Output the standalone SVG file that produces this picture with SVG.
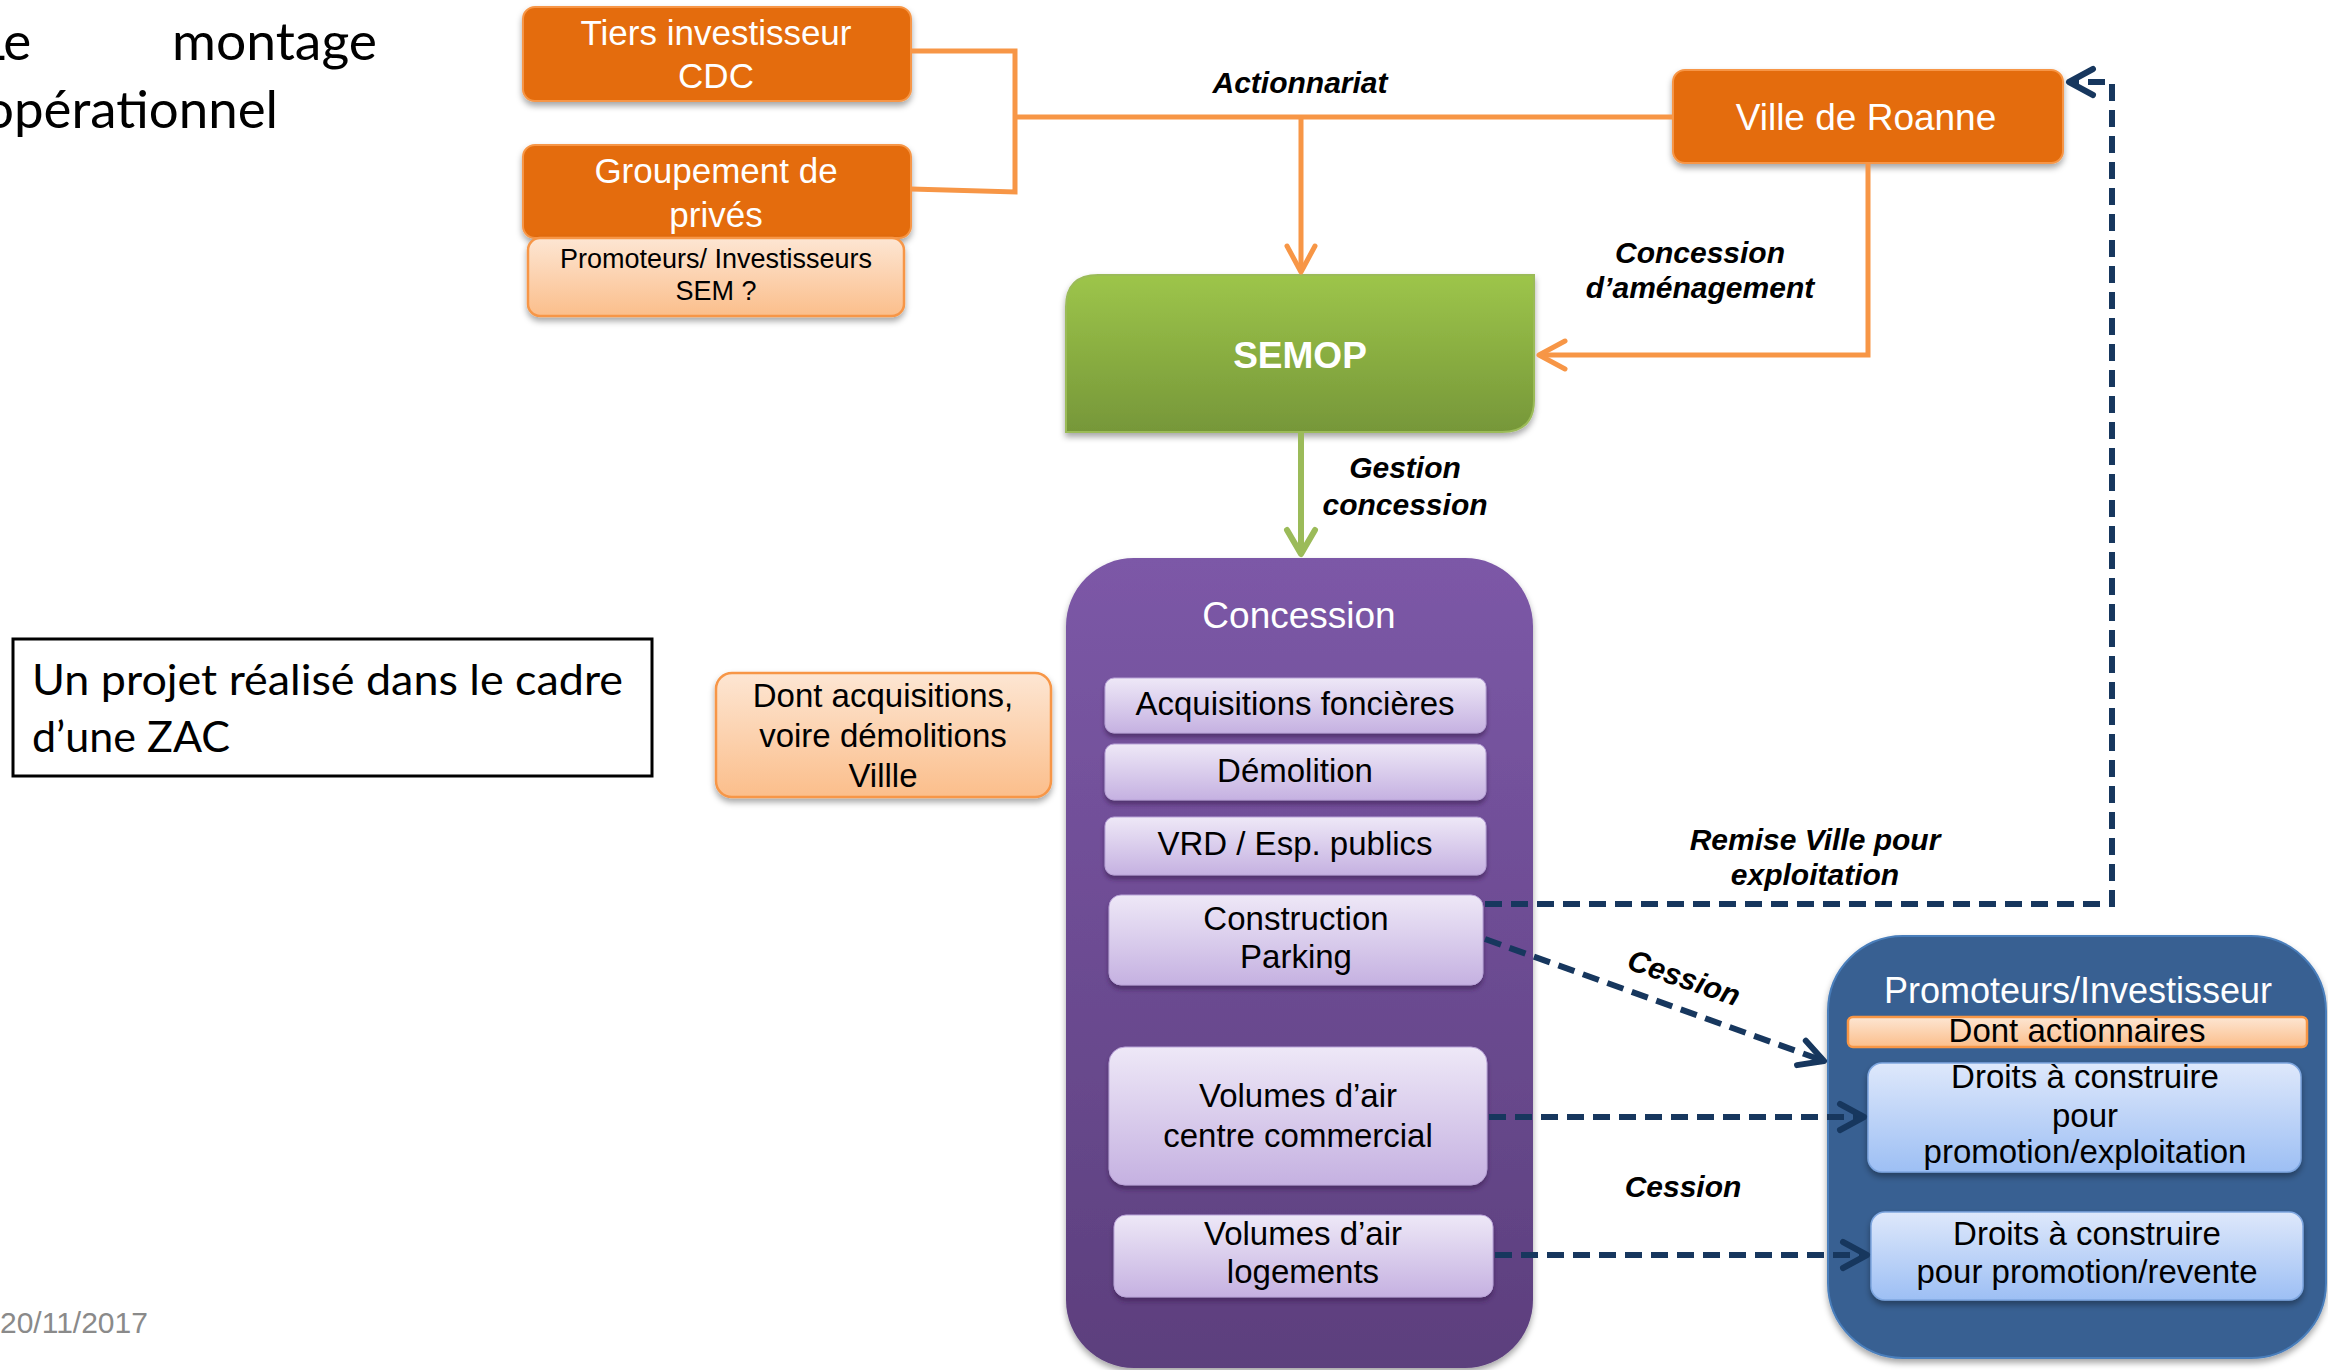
<svg xmlns="http://www.w3.org/2000/svg" width="2328" height="1370" viewBox="0 0 2328 1370">
<defs>
  <linearGradient id="gLightOrange" x1="0" y1="0" x2="0" y2="1">
    <stop offset="0" stop-color="#FDE6D3"/>
    <stop offset="1" stop-color="#FBBE8B"/>
  </linearGradient>
  <linearGradient id="gGreen" x1="0" y1="0" x2="0" y2="1">
    <stop offset="0" stop-color="#9DC54A"/>
    <stop offset="1" stop-color="#769739"/>
  </linearGradient>
  <linearGradient id="gPurple" x1="0" y1="0" x2="0" y2="1">
    <stop offset="0" stop-color="#7C58A7"/>
    <stop offset="1" stop-color="#5C3F7D"/>
  </linearGradient>
  <linearGradient id="gLav" x1="0" y1="0" x2="0" y2="1">
    <stop offset="0" stop-color="#EEE8F7"/>
    <stop offset="1" stop-color="#C5B1E1"/>
  </linearGradient>
  <linearGradient id="gLightBlue" x1="0" y1="0" x2="0" y2="1">
    <stop offset="0" stop-color="#DEE8FB"/>
    <stop offset="1" stop-color="#9DBFF4"/>
  </linearGradient>
  <filter id="shadow" x="-10%" y="-10%" width="120%" height="130%">
    <feDropShadow dx="0" dy="4" stdDeviation="3" flood-color="#000" flood-opacity="0.35"/>
  </filter>
  <filter id="shadowPurple" x="-10%" y="-10%" width="120%" height="130%">
    <feDropShadow dx="0" dy="4" stdDeviation="2" flood-color="#3A2352" flood-opacity="0.6"/>
  </filter>
  <marker id="arrOrange" markerUnits="userSpaceOnUse" markerWidth="40" markerHeight="40" viewBox="-32 -20 40 40" refX="0" refY="0" orient="auto">
    <path d="M -26 -14 L 0 0 L -26 14" fill="none" stroke="#F79646" stroke-width="5" stroke-linecap="round" stroke-linejoin="round"/>
  </marker>
  <marker id="arrGreen" markerUnits="userSpaceOnUse" markerWidth="40" markerHeight="40" viewBox="-32 -20 40 40" refX="0" refY="0" orient="auto">
    <path d="M -24 -14 L 0 0 L -24 14" fill="none" stroke="#9BBB59" stroke-width="6" stroke-linecap="round" stroke-linejoin="round"/>
  </marker>
  <marker id="arrNavy" markerUnits="userSpaceOnUse" markerWidth="40" markerHeight="40" viewBox="-32 -20 40 40" refX="0" refY="0" orient="auto">
    <path d="M -24 -13 L 0 0 L -24 13" fill="none" stroke="#17375E" stroke-width="6" stroke-dasharray="none" stroke-linecap="round" stroke-linejoin="round"/>
  </marker>
</defs>
<style>
  .sans { font-family: "Liberation Sans", Arial, sans-serif; }
  .cal { font-family: Lato, "Open Sans", sans-serif; fill: #000; }
  .orange { fill: #E46C0A; stroke: #F79646; stroke-width: 2; }
  .lorange { fill: url(#gLightOrange); stroke: #F79646; stroke-width: 2.5; }
  .lav { fill: url(#gLav); stroke: #B9A3D8; stroke-width: 1; }
  .lblue { fill: url(#gLightBlue); stroke: #7FA7E0; stroke-width: 1.5; }
  .wt { fill: #FFFFFF; text-anchor: middle; }
  .bk { fill: #000000; text-anchor: middle; }
  .lbl { fill: #000000; text-anchor: middle; font-weight: bold; font-style: italic; font-size: 30px; }
  .orangeLine { fill: none; stroke: #F79646; stroke-width: 5; }
  .greenLine { fill: none; stroke: #9BBB59; stroke-width: 6; }
  .navyDash { fill: none; stroke: #17375E; stroke-width: 6; stroke-dasharray: 17 9; }
</style>

<rect x="0" y="0" width="2328" height="1370" fill="#FFFFFF"/>

<!-- Title (cut at left edge) -->
<g id="title">
  <text class="cal" x="-22" y="60" font-size="53">Le</text>
  <text class="cal" x="172" y="60" font-size="53" textLength="205" lengthAdjust="spacingAndGlyphs">montage</text>
  <text class="cal" x="-16" y="128" font-size="53" textLength="294" lengthAdjust="spacingAndGlyphs">opérationnel</text>
</g>

<g id="zac-note">
  <rect x="13" y="639" width="639" height="137" fill="#FFFFFF" stroke="#000000" stroke-width="3"/>
  <text class="cal" x="32" y="695" font-size="42" textLength="591" lengthAdjust="spacingAndGlyphs">Un projet réalisé dans le cadre</text>
  <text class="cal" x="32" y="752" font-size="42" textLength="198" lengthAdjust="spacingAndGlyphs">d’une ZAC</text>
</g>

<g id="date">
  <text class="sans" x="0" y="1333" font-size="30" fill="#8A8A8A">20/11/2017</text>
</g>

<!-- Nodes -->
<g id="tiers-investisseur">
  <rect class="orange" x="523" y="7" width="388" height="94" rx="12" filter="url(#shadow)"/>
  <text class="sans wt" x="716" y="45" font-size="35">Tiers investisseur</text>
  <text class="sans wt" x="716" y="88" font-size="35">CDC</text>
</g>

<g id="groupement-prives">
  <rect class="orange" x="523" y="145" width="388" height="93" rx="12" filter="url(#shadow)"/>
  <text class="sans wt" x="716" y="183" font-size="35">Groupement de</text>
  <text class="sans wt" x="716" y="227" font-size="35">privés</text>
</g>

<g id="promoteurs-sem">
  <rect class="lorange" x="528" y="238" width="376" height="78" rx="12" filter="url(#shadow)"/>
  <text class="sans bk" x="716" y="268" font-size="27">Promoteurs/ Investisseurs</text>
  <text class="sans bk" x="716" y="300" font-size="27">SEM ?</text>
</g>

<g id="ville-roanne">
  <rect class="orange" x="1673" y="70" width="390" height="93" rx="12" filter="url(#shadow)"/>
  <text class="sans wt" x="1866" y="130" font-size="37">Ville de Roanne</text>
</g>

<g id="semop">
  <path d="M 1098 275 L 1534 275 L 1534 400 Q 1534 432 1502 432 L 1066 432 L 1066 307 Q 1066 275 1098 275 Z" fill="url(#gGreen)" stroke="#9BBB59" stroke-width="2" filter="url(#shadow)"/>
  <text class="sans wt" x="1300" y="368" font-size="37" font-weight="bold">SEMOP</text>
</g>

<g id="dont-acquisitions">
  <rect class="lorange" x="716" y="673" width="335" height="124" rx="16" filter="url(#shadow)"/>
  <text class="sans bk" x="883" y="707" font-size="33">Dont acquisitions,</text>
  <text class="sans bk" x="883" y="747" font-size="33">voire démolitions</text>
  <text class="sans bk" x="883" y="787" font-size="33">Villle</text>
</g>

<g id="concession">
  <rect x="1066" y="558" width="467" height="810" rx="68" fill="url(#gPurple)" filter="url(#shadow)"/>
  <text class="sans wt" x="1299" y="628" font-size="37">Concession</text>
</g>

<g id="acquisitions-foncieres">
  <rect class="lav" x="1105" y="678" width="381" height="55" rx="9" filter="url(#shadowPurple)"/>
  <text class="sans bk" x="1295" y="715" font-size="33">Acquisitions foncières</text>
</g>

<g id="demolition">
  <rect class="lav" x="1105" y="744" width="381" height="56" rx="9" filter="url(#shadowPurple)"/>
  <text class="sans bk" x="1295" y="782" font-size="33">Démolition</text>
</g>

<g id="vrd">
  <rect class="lav" x="1105" y="817" width="381" height="58" rx="9" filter="url(#shadowPurple)"/>
  <text class="sans bk" x="1295" y="855" font-size="33">VRD / Esp. publics</text>
</g>

<g id="construction-parking">
  <rect class="lav" x="1109" y="895" width="374" height="90" rx="12" filter="url(#shadowPurple)"/>
  <text class="sans bk" x="1296" y="930" font-size="33">Construction</text>
  <text class="sans bk" x="1296" y="968" font-size="33">Parking</text>
</g>

<g id="volumes-centre-commercial">
  <rect class="lav" x="1109" y="1047" width="378" height="138" rx="16" filter="url(#shadowPurple)"/>
  <text class="sans bk" x="1298" y="1107" font-size="33">Volumes d’air</text>
  <text class="sans bk" x="1298" y="1147" font-size="33">centre commercial</text>
</g>

<g id="volumes-logements">
  <rect class="lav" x="1114" y="1215" width="379" height="82" rx="12" filter="url(#shadowPurple)"/>
  <text class="sans bk" x="1303" y="1245" font-size="33">Volumes d’air</text>
  <text class="sans bk" x="1303" y="1283" font-size="33">logements</text>
</g>

<g id="promoteurs-investisseur">
  <rect x="1828" y="936" width="498" height="422" rx="75" fill="#376092" stroke="#4A7EBB" stroke-width="2" filter="url(#shadow)"/>
  <text class="sans wt" x="2078" y="1003" font-size="36">Promoteurs/Investisseur</text>
</g>

<g id="dont-actionnaires">
  <rect class="lorange" x="1848" y="1017" width="459" height="30" rx="5"/>
  <text class="sans bk" x="2077" y="1042" font-size="33">Dont actionnaires</text>
</g>

<g id="droits-exploitation">
  <rect class="lblue" x="1868" y="1063" width="433" height="109" rx="14" filter="url(#shadow)"/>
  <text class="sans bk" x="2085" y="1088" font-size="33">Droits à construire</text>
  <text class="sans bk" x="2085" y="1127" font-size="33">pour</text>
  <text class="sans bk" x="2085" y="1163" font-size="33">promotion/exploitation</text>
</g>

<g id="droits-revente">
  <rect class="lblue" x="1871" y="1212" width="432" height="88" rx="14" filter="url(#shadow)"/>
  <text class="sans bk" x="2087" y="1245" font-size="33">Droits à construire</text>
  <text class="sans bk" x="2087" y="1283" font-size="33">pour promotion/revente</text>
</g>

<!-- Connectors (drawn on top) -->
<g id="connectors">
  <path class="orangeLine" d="M 911 51 L 1015 51 L 1015 192 L 911 189"/>
  <path class="orangeLine" d="M 1015 117 L 1673 117"/>
  <path class="orangeLine" d="M 1301 117 L 1301 272" marker-end="url(#arrOrange)"/>
  <path class="orangeLine" d="M 1868 163 L 1868 355 L 1539 355" marker-end="url(#arrOrange)"/>
  <path class="greenLine" d="M 1301 432 L 1301 554" marker-end="url(#arrGreen)"/>
  <path class="navyDash" d="M 1485 904 L 2112 904 L 2112 82 L 2069 82" marker-end="url(#arrNavy)"/>
  <path class="navyDash" d="M 1485 939 L 1824 1061" marker-end="url(#arrNavy)"/>
  <path class="navyDash" d="M 1489 1117 L 1864 1117" marker-end="url(#arrNavy)"/>
  <path class="navyDash" d="M 1495 1255 L 1867 1255" marker-end="url(#arrNavy)"/>

  <text class="sans lbl" x="1300" y="93">Actionnariat</text>
  <text class="sans lbl" x="1700" y="263">Concession</text>
  <text class="sans lbl" x="1700" y="298">d’aménagement</text>
  <text class="sans lbl" x="1405" y="478">Gestion</text>
  <text class="sans lbl" x="1405" y="515">concession</text>
  <text class="sans lbl" x="1815" y="850">Remise Ville pour</text>
  <text class="sans lbl" x="1815" y="885">exploitation</text>
  <text class="sans lbl" x="1684" y="988" transform="rotate(19 1684 978)">Cession</text>
  <text class="sans lbl" x="1683" y="1197">Cession</text>
</g>
</svg>
